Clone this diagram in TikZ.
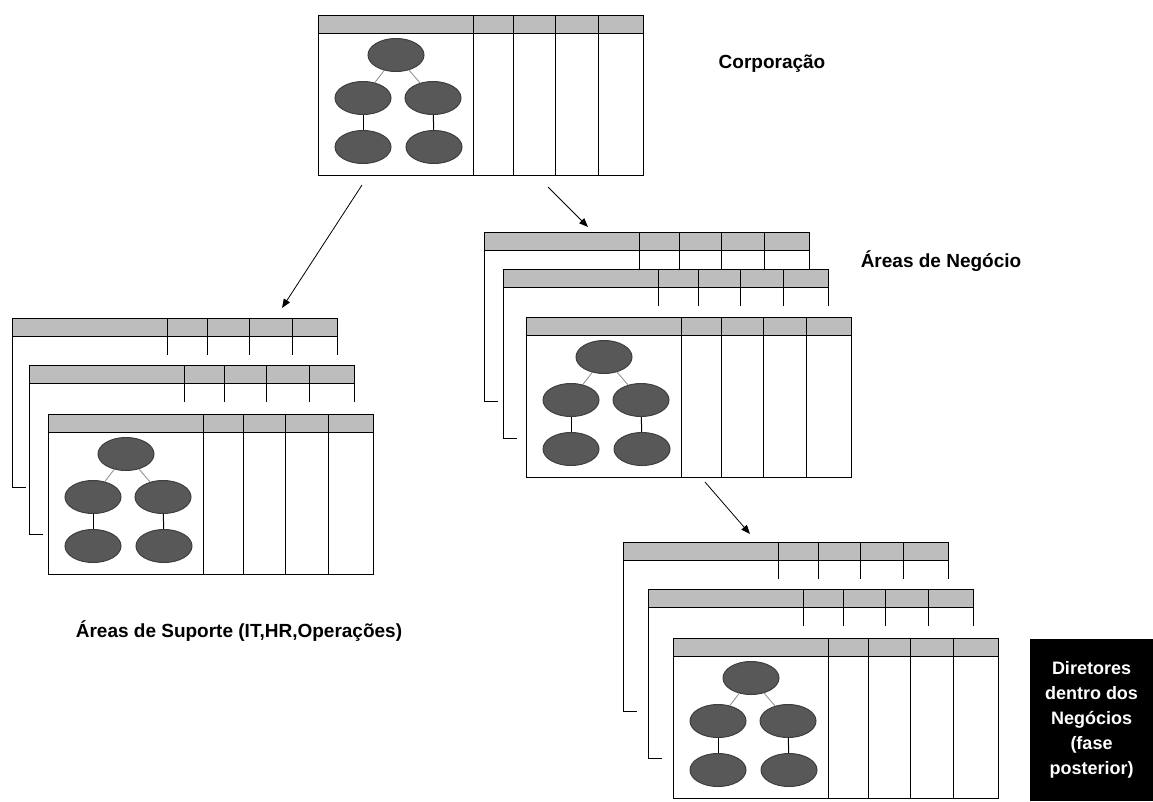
\documentclass[tikz,border=0pt]{standalone}
\usepackage{fontspec}
\setmainfont{Liberation Sans}
\usetikzlibrary{shapes.geometric,arrows.meta}

\definecolor{headgray}{HTML}{BDBDBD}
\definecolor{nodegray}{HTML}{585858}
\definecolor{treegray}{HTML}{8C8C8C}

\tikzset{
    orgnode/.style={ellipse,fill=nodegray,draw=nodegray!70!black,
        minimum width=56pt,minimum height=33pt,inner sep=0pt},
    treeline/.style={draw=treegray,line width=0.8pt},
    flowarrow/.style={line width=0.8pt,-{Triangle[length=9pt,width=7pt]}},
    areatext/.style={font=\bfseries\fontsize{19}{23}\selectfont},
    darkbox/.style={fill=black,text=white,align=center,
        minimum width=123pt,minimum height=162pt,
        font=\bfseries\fontsize{18}{25}\selectfont}
}

% front card of a stack, with its small org chart
\newcommand{\frontcard}[3]{%
    \begin{scope}[shift={(#2,#3)}]
        \filldraw[fill=white] (0,0) rectangle (325,160);
        \filldraw[fill=headgray] (0,0) rectangle (325,18);
        \foreach \cx in {155,195,237,280} \draw (\cx,0) -- (\cx,160);
        \node[orgnode] (#1-top) at (78,40) {};
        \node[orgnode] (#1-ml) at (45,83) {};
        \node[orgnode] (#1-mr) at (115,83) {};
        \node[orgnode] (#1-bl) at (45,132) {};
        \node[orgnode] (#1-br) at (116,132) {};
        \draw[treeline] (#1-top) -- (#1-ml);
        \draw[treeline] (#1-top) -- (#1-mr);
        \draw (#1-ml) -- (#1-bl);
        \draw (#1-mr) -- (#1-br);
    \end{scope}}

% card behind, only header and edges show
\newcommand{\backcard}[2]{%
    \begin{scope}[shift={(#1,#2)}]
        \draw (0,18) -- (0,169) -- (14,169);
        \filldraw[fill=headgray] (0,0) rectangle (325,18);
        \foreach \cx in {155,195,237,280,325} \draw (\cx,0) -- (\cx,37);
    \end{scope}}

\begin{document}
\begin{tikzpicture}[x=1pt,y=-1pt,line width=1pt]
    \useasboundingbox (0,0) rectangle (1153,801);

    % corporation
    \frontcard{corp}{318}{15}
    \node[areatext,anchor=base] (corptext) at (772,68) {Corporação};

    % business areas
    \backcard{484}{232}
    \backcard{503}{269}
    \frontcard{bus}{526}{317}
    \node[areatext,anchor=base] (bustext) at (941,267) {Áreas de Negócio};

    % support areas
    \backcard{12}{318}
    \backcard{29}{365}
    \frontcard{sup}{48}{414}
    \node[areatext,anchor=base west] (suptext) at (72,637) {Áreas de Suporte (IT,HR,Operações)};

    % directors
    \backcard{623}{542}
    \backcard{648}{589}
    \frontcard{dir}{673}{638}
    \node[darkbox] (dirtext) at (1091.5,720) {Diretores\\dentro dos\\Negócios\\(fase\\posterior)};

    % arrows
    \coordinate (corp-l) at (362,185);
    \coordinate (corp-r) at (548,187);
    \coordinate (sup-in) at (282,308);
    \coordinate (bus-in) at (588,227);
    \coordinate (bus-out) at (705,482);
    \coordinate (dir-in) at (750,534);
    \draw[flowarrow] (corp-l) -- (sup-in);
    \draw[flowarrow] (corp-r) -- (bus-in);
    \draw[flowarrow] (bus-out) -- (dir-in);
\end{tikzpicture}
\end{document}
